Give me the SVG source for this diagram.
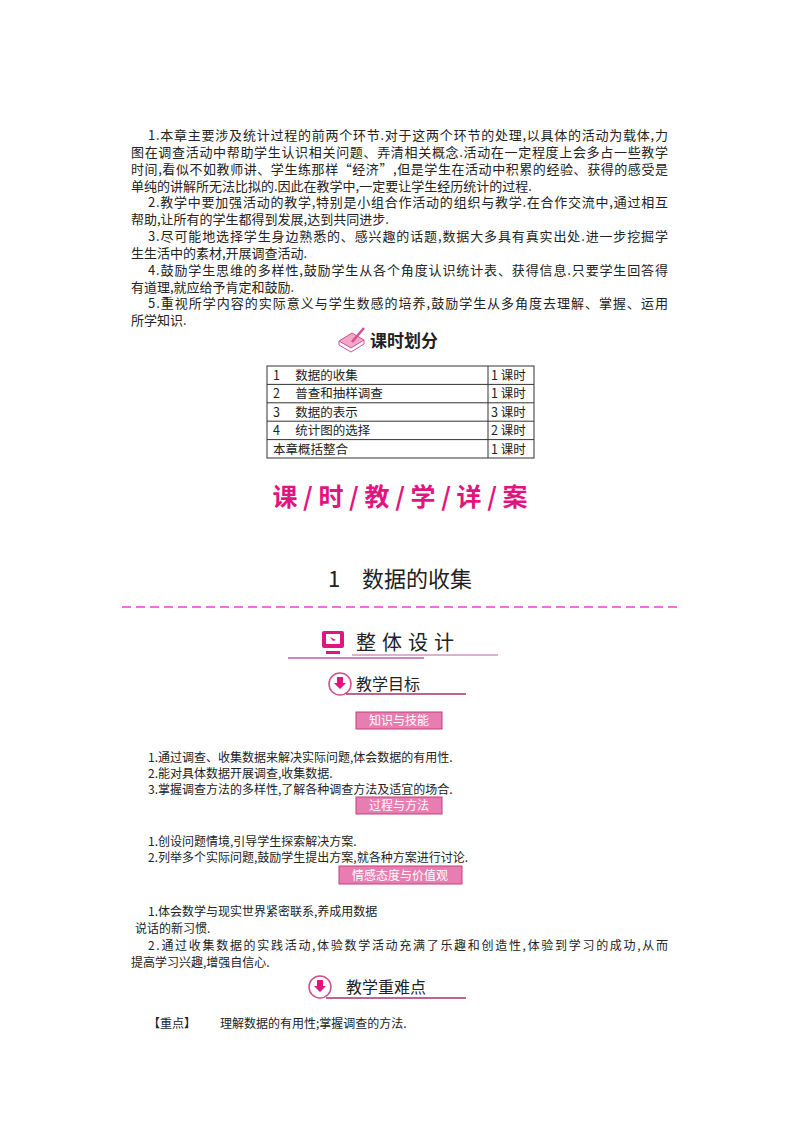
<svg xmlns="http://www.w3.org/2000/svg" width="800" height="1132" viewBox="0 0 800 1132">
<style>
text{font-family:"Noto Sans CJK SC","Liberation Serif",sans-serif;fill:#222}
.b{font-size:13px}
.t{font-size:12px}
.tag{font-size:12px;fill:#fff;text-anchor:middle}
.tagbox{fill:#e77db0;stroke:#c2407f;stroke-width:1}
.h{font-size:17px;font-weight:bold}
.cell{fill:none;stroke:#333;stroke-width:1}
</style>
<rect width="800" height="1132" fill="#fff"/>
<g id="intro">
<text class="b" x="148" y="140" textLength="520" lengthAdjust="spacing">1.本章主要涉及统计过程的前两个环节.对于这两个环节的处理,以具体的活动为载体,力</text>
<text class="b" x="131" y="157" textLength="537" lengthAdjust="spacing">图在调查活动中帮助学生认识相关问题、弄清相关概念.活动在一定程度上会多占一些教学</text>
<text class="b" x="131" y="174" textLength="537" lengthAdjust="spacing">时间,看似不如教师讲、学生练那样“经济”,但是学生在活动中积累的经验、获得的感受是</text>
<text class="b" x="131" y="191">单纯的讲解所无法比拟的.因此在教学中,一定要让学生经历统计的过程.</text>
<text class="b" x="148" y="207" textLength="520" lengthAdjust="spacing">2.教学中要加强活动的教学,特别是小组合作活动的组织与教学.在合作交流中,通过相互</text>
<text class="b" x="131" y="224">帮助,让所有的学生都得到发展,达到共同进步.</text>
<text class="b" x="148" y="241" textLength="520" lengthAdjust="spacing">3.尽可能地选择学生身边熟悉的、感兴趣的话题,数据大多具有真实出处.进一步挖掘学</text>
<text class="b" x="131" y="258">生生活中的素材,开展调查活动.</text>
<text class="b" x="148" y="275" textLength="520" lengthAdjust="spacing">4.鼓励学生思维的多样性,鼓励学生从各个角度认识统计表、获得信息.只要学生回答得</text>
<text class="b" x="131" y="292">有道理,就应给予肯定和鼓励.</text>
<text class="b" x="148" y="308" textLength="520" lengthAdjust="spacing">5.重视所学内容的实际意义与学生数感的培养,鼓励学生从多角度去理解、掌握、运用</text>
<text class="b" x="131" y="325">所学知识.</text>
</g>
<g id="schedule">
<g id="icon-book">
<path d="M339 341 L352 333 L364 340 L351 348 Z" fill="#f2a6c8" stroke="#d0508f"/>
<path d="M339 341 L339 345 L351 352 L364 344 L364 340" fill="none" stroke="#d0508f"/>
<path d="M352 342 L364 328" stroke="#d0508f" stroke-width="2.5"/>
</g>
<text class="h" x="370" y="347">课时划分</text>
<rect class="cell" x="267" y="366" width="267" height="92"/>
<g class="cell">
<line x1="267" y1="384.4" x2="534" y2="384.4" stroke="#333"/>
<line x1="267" y1="402.8" x2="534" y2="402.8" stroke="#333"/>
<line x1="267" y1="421.2" x2="534" y2="421.2" stroke="#333"/>
<line x1="267" y1="439.6" x2="534" y2="439.6" stroke="#333"/>
<line x1="488" y1="366" x2="488" y2="458" stroke="#333"/>
</g>
<g style="font-size:12.5px">
<text x="273" y="380">1　 数据的收集</text><text x="491" y="380">1 课时</text>
<text x="273" y="398">2　 普查和抽样调查</text><text x="491" y="398">1 课时</text>
<text x="273" y="417">3　 数据的表示</text><text x="491" y="417">3 课时</text>
<text x="273" y="435">4　 统计图的选择</text><text x="491" y="435">2 课时</text>
<text x="273" y="454">本章概括整合</text><text x="491" y="454">1 课时</text>
</g>
</g>
<text x="400" y="506" text-anchor="middle" style="font-size:25px;font-weight:bold;fill:#e0157f">课 / 时 / 教 / 学 / 详 / 案</text>
<text x="400" y="587" text-anchor="middle" style="font-size:22px">1　数据的收集</text>
<line x1="122" y1="607" x2="677" y2="607" stroke="#f03cd8" stroke-width="1.5" stroke-dasharray="9,5"/>
<g id="sec-design">
<rect x="322" y="631" width="22" height="17" rx="2" fill="#e0157f"/>
<rect x="326" y="634" width="14" height="10" fill="#fff"/>
<path d="M330 637 L336 640 L333 641 Z" fill="#e0157f"/>
<rect x="326" y="651" width="14" height="3" fill="#e0157f"/>
<text x="356" y="650" style="font-size:20px;letter-spacing:6px">整体设计</text>
<line x1="352" y1="655" x2="498" y2="655" stroke="#c35ba0"/>
<line x1="288" y1="658" x2="424" y2="658" stroke="#c35ba0" stroke-width="1.5"/>
</g>
<g id="sec-goal">
<circle cx="340" cy="684" r="11" fill="#fff" stroke="#d0508f" stroke-width="1.5"/>
<path d="M337 677 h6 v6 h3 l-6 6 l-6 -6 h3 z" fill="#e0157f"/>
<text x="356" y="690" style="font-size:16px">教学目标</text>
<line x1="346" y1="694" x2="466" y2="694" stroke="#a0356f" stroke-width="1.5"/>
</g>
<g id="tag1"><rect class="tagbox" x="356" y="712" width="86" height="17"/><text class="tag" x="399" y="725">知识与技能</text></g>
<text class="t" x="148" y="762">1.通过调查、收集数据来解决实际问题,体会数据的有用性.</text>
<text class="t" x="148" y="778">2.能对具体数据开展调查,收集数据.</text>
<text class="t" x="148" y="794">3.掌握调查方法的多样性,了解各种调查方法及适宜的场合.</text>
<g id="tag2"><rect class="tagbox" x="356" y="797" width="86" height="17"/><text class="tag" x="399" y="810">过程与方法</text></g>
<text class="t" x="148" y="846">1.创设问题情境,引导学生探索解决方案.</text>
<text class="t" x="148" y="862">2.列举多个实际问题,鼓励学生提出方案,就各种方案进行讨论.</text>
<g id="tag3"><rect class="tagbox" x="339" y="866" width="123" height="18"/><text class="tag" x="400" y="880">情感态度与价值观</text></g>
<text class="t" x="148" y="916">1.体会数学与现实世界紧密联系,养成用数据</text>
<text class="t" x="135" y="933">说话的新习惯.</text>
<text class="t" x="148" y="950" textLength="520" lengthAdjust="spacing">2.通过收集数据的实践活动,体验数学活动充满了乐趣和创造性,体验到学习的成功,从而</text>
<text class="t" x="131" y="967">提高学习兴趣,增强自信心.</text>
<g id="sec-key">
<circle cx="320" cy="987" r="11" fill="#fff" stroke="#d0508f" stroke-width="1.5"/>
<path d="M317 980 h6 v6 h3 l-6 6 l-6 -6 h3 z" fill="#e0157f"/>
<text x="346" y="993" style="font-size:16px">教学重难点</text>
<line x1="326" y1="998" x2="466" y2="998" stroke="#a0356f" stroke-width="1.5"/>
</g>
<text class="t" x="148" y="1028">【重点】</text>
<text class="t" x="220" y="1028">理解数据的有用性;掌握调查的方法.</text>
</svg>
